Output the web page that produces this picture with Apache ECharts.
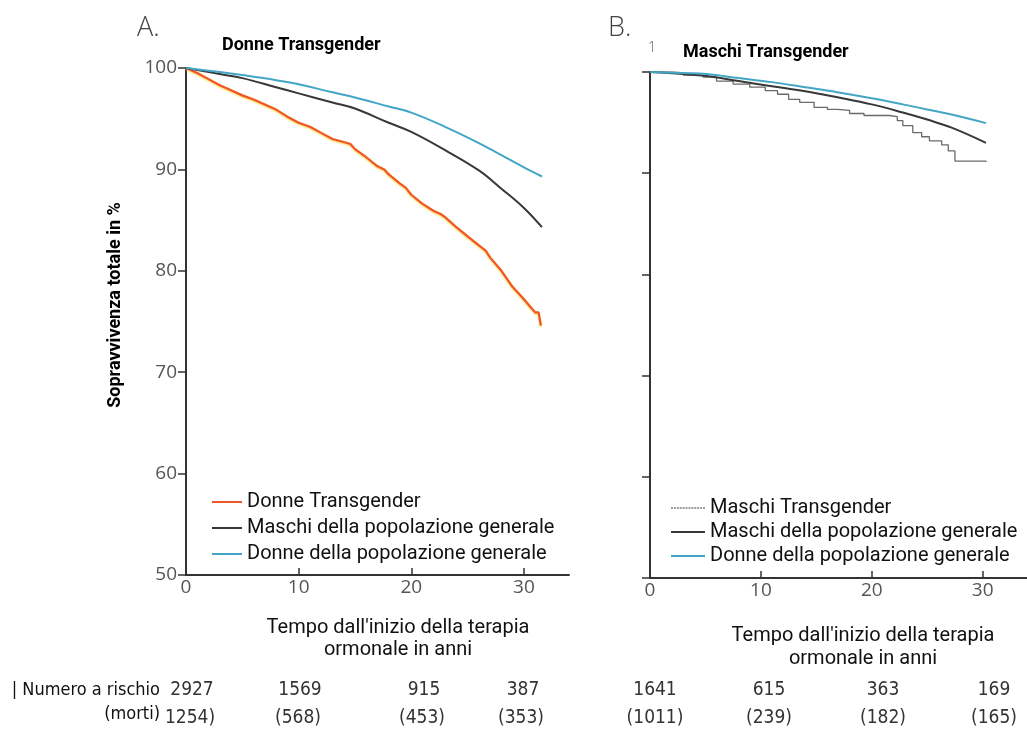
<!DOCTYPE html>
<html>
<head>
<meta charset="utf-8">
<script src="https://cdn.jsdelivr.net/npm/echarts@6/dist/echarts.min.js"></script>
<style>
  html, body { margin: 0; padding: 0; background: #fff; }
  #chart { width: 1027px; height: 733px; }
</style>
</head>
<body>
<div id="chart"></div>
<script>
// Survival (%) by years since start of hormone therapy: [year, value]
const donneTransgender = [
  [0, 100], [1, 99.5], [2, 98.9], [3, 98.3], [4, 97.8], [5, 97.3], [6, 96.9], [7, 96.4],
  [8, 95.9], [9, 95.2], [10, 94.6], [11, 94.2], [12, 93.6], [13, 93.0], [14, 92.7],
  [14.6, 92.5], [15, 92.0], [16, 91.2], [17, 90.3], [17.6, 90.0], [18, 89.5], [19, 88.6],
  [19.5, 88.2], [20, 87.5], [21, 86.6], [22, 85.9], [22.6, 85.6], [23, 85.3], [24, 84.3],
  [25, 83.4], [26, 82.5], [26.6, 82.0], [27, 81.3], [28, 80.0], [29, 78.4], [29.5, 77.8],
  [30, 77.2], [30.6, 76.4], [31, 75.9], [31.3, 75.9], [31.5, 74.6]
];
const maschiGeneraleA = [
  [0, 100], [3, 99.4], [5, 99.0], [8, 98.1], [10, 97.5], [13, 96.6], [15, 96.0],
  [18, 94.6], [20, 93.7], [23, 91.9], [26, 89.9], [28, 88.1], [30, 86.2], [31.6, 84.3]
];
const donneGeneraleA = [
  [0, 100], [3, 99.6], [5, 99.3], [8, 98.8], [10, 98.4], [13, 97.6], [15, 97.1],
  [18, 96.2], [20, 95.6], [23, 94.2], [26, 92.6], [28, 91.4], [30, 90.2], [31.6, 89.3]
];

const maschiTransgender = [
  [0, 100], [2, 99.9], [3, 99.7], [4.8, 99.5], [6, 99.1], [7.5, 98.8], [9, 98.5],
  [10.4, 98.15], [11.5, 97.8], [12.5, 97.3], [13.5, 97.0], [14.8, 96.5], [16, 96.3],
  [16.9, 96.2], [18, 95.9], [19.3, 95.7], [21.6, 95.6], [22.3, 95.2], [22.8, 94.7],
  [23.7, 94.0], [24.5, 93.6], [25.2, 93.2], [26.3, 92.8], [26.9, 92.2], [27.5, 91.2],
  [30.3, 91.1]
];
const maschiGeneraleB = [
  [0, 100], [3, 99.8], [5.1, 99.6], [8, 99.1], [11, 98.6], [14, 98.1], [16.9, 97.5],
  [20, 96.8], [22.8, 96.0], [25, 95.3], [27.2, 94.5], [30.3, 93.0]
];
const donneGeneraleB = [
  [0, 100], [3, 99.9], [5.1, 99.8], [8, 99.4], [11, 99.0], [14, 98.5], [16.9, 98.0],
  [20, 97.4], [22.8, 96.8], [25, 96.3], [27.2, 95.8], [30.3, 94.95]
];

const xTicks = [0, 10, 20, 30];
const yTicks = [50, 60, 70, 80, 90, 100];

// Number at risk and (deaths) under each panel
const rischioA = ['2927', '1569', '915', '387'];
const mortiA = ['1254)', '(568)', '(453)', '(353)'];
const rischioB = ['1641', '615', '363', '169'];
const mortiB = ['(1011)', '(239)', '(182)', '(165)'];

const legendA = ['Donne Transgender', 'Maschi della popolazione generale', 'Donne della popolazione generale'];
const legendB = ['Maschi Transgender', 'Maschi della popolazione generale', 'Donne della popolazione generale'];

// ---- layout and styling ----
const COL_ORANGE = '#ef5525';
const COL_BLACK = '#383838';
const COL_BLUE = '#43a6c6';
const COL_GREY = '#6a6a6a';
const TICK_FONT = '"Open Sans", "DejaVu Sans", sans-serif';
const TEXT_FONT = 'Roboto, "Noto Sans", sans-serif';
const NARROW_FONT = '"Liberation Sans Narrow", "DejaVu Sans Condensed", sans-serif';

// short dashes for the dotted legend key
let dashPath = 'path://';
for (let i = 0; i < 34; i += 3) dashPath += 'M' + i + ',0h2v1h-2z';

const chart = echarts.init(document.getElementById('chart'), null, { renderer: 'canvas' });

function xAxisFor(gridIndex) {
  return {
    type: 'value', gridIndex, min: 0, max: 34,
    axisLine: { show: true, onZero: false, lineStyle: { color: '#333', width: 2 } },
    axisTick: { show: true, inside: true, length: 7, customValues: xTicks, lineStyle: { color: '#333', width: 1.5 } },
    axisLabel: { customValues: xTicks, color: '#555', fontSize: 19, fontFamily: TICK_FONT, margin: 3 },
    splitLine: { show: false }
  };
}
function yAxisFor(gridIndex, labels) {
  return {
    type: 'value', gridIndex, min: 50, max: 100, interval: 10,
    axisLine: { show: true, onZero: false, lineStyle: { color: '#333', width: 2 } },
    axisTick: { show: true, length: 8, lineStyle: { color: '#333', width: 1.5 } },
    axisLabel: { show: labels, customValues: yTicks, color: '#555', fontSize: 19, fontFamily: TICK_FONT, margin: 9 },
    splitLine: { show: false }
  };
}
function line(name, data, axis, color, width, extra) {
  return Object.assign({
    name, type: 'line', data, xAxisIndex: axis, yAxisIndex: axis,
    symbol: 'none', smooth: false, animation: false,
    lineStyle: { color, width }, itemStyle: { color }
  }, extra || {});
}

function tableText(x, y, text, align) {
  return {
    type: 'text', x, y, silent: true,
    style: { text, font: '19px ' + NARROW_FONT, fill: '#333', textAlign: align || 'center', textVerticalAlign: 'middle' }
  };
}
const colsA = [192, 300, 424, 523];
const colsB = [655, 769, 883, 994];
const tableGraphics = [];
rischioA.forEach((t, i) => tableGraphics.push(tableText(colsA[i], 690, t)));
mortiA.forEach((t, i) => tableGraphics.push(tableText(colsA[i] - 2, 718, t)));
rischioB.forEach((t, i) => tableGraphics.push(tableText(colsB[i], 690, t)));
mortiB.forEach((t, i) => tableGraphics.push(tableText(colsB[i], 718, t)));

const legendText = { fontSize: 20, lineHeight: 20, color: '#111', fontFamily: TEXT_FONT };

const option = {
  backgroundColor: '#fff',
  animation: false,
  grid: [
    { left: 186, top: 68, width: 383, height: 507 },
    { left: 650, top: 72, width: 384, height: 506 }
  ],
  xAxis: [xAxisFor(0), xAxisFor(1)],
  yAxis: [yAxisFor(0, true), yAxisFor(1, false)],
  legend: [
    {
      orient: 'vertical', left: 207, top: 487, icon: 'rect', itemWidth: 30, itemHeight: 2, itemGap: 6,
      symbolKeepAspect: false, textStyle: legendText, data: legendA, selectedMode: false
    },
    {
      orient: 'vertical', left: 666, top: 493, icon: 'rect', itemWidth: 34, itemHeight: 2, itemGap: 4,
      symbolKeepAspect: false, textStyle: legendText,
      data: [
        { name: legendB[0], icon: dashPath, itemStyle: { color: '#9a9a9a' } },
        legendB[1], legendB[2]
      ],
      selectedMode: false
    }
  ],
  series: [
    line('Donne Transgender', donneTransgender, 0, COL_ORANGE, 2.2,
      { lineStyle: { color: COL_ORANGE, width: 2.2, shadowColor: 'rgba(245,200,20,0.8)', shadowBlur: 2, shadowOffsetY: 1 } }),
    line('Maschi della popolazione generale', maschiGeneraleA, 0, COL_BLACK, 2, { smooth: 0.4 }),
    line('Donne della popolazione generale', donneGeneraleA, 0, COL_BLUE, 2, { smooth: 0.4 }),
    line('Maschi Transgender', maschiTransgender, 1, COL_GREY, 1.3, { step: 'end' }),
    line('Maschi della popolazione generale', maschiGeneraleB, 1, COL_BLACK, 2, { smooth: 0.4 }),
    line('Donne della popolazione generale', donneGeneraleB, 1, COL_BLUE, 2, { smooth: 0.4 })
  ],
  graphic: [
    { type: 'text', x: 137, y: 28, style: { text: 'A.', font: '300 27px ' + TICK_FONT, fill: '#444', textVerticalAlign: 'middle' } },
    { type: 'text', x: 608, y: 28, style: { text: 'B.', font: '300 27px ' + TICK_FONT, fill: '#444', textVerticalAlign: 'middle' } },
    { type: 'text', x: 652, y: 48, style: { text: '1', font: '300 14px ' + TICK_FONT, fill: '#555', textAlign: 'center', textVerticalAlign: 'middle' } },
    { type: 'text', x: 222, y: 45, style: { text: 'Donne Transgender', font: 'bold 18px ' + TEXT_FONT, fill: '#000', textVerticalAlign: 'middle' } },
    { type: 'text', x: 683, y: 52, style: { text: 'Maschi Transgender', font: 'bold 18px ' + TEXT_FONT, fill: '#000', textVerticalAlign: 'middle' } },
    { type: 'text', x: 115, y: 305, rotation: Math.PI / 2,
      style: { text: 'Sopravvivenza totale in %', font: 'bold 18px ' + TEXT_FONT, fill: '#000', textAlign: 'center', textVerticalAlign: 'middle' } },
    { type: 'text', x: 398, y: 639,
      style: { text: "Tempo dall'inizio della terapia\normonale in anni", font: '20px ' + TEXT_FONT, lineHeight: 22, fill: '#111', textAlign: 'center', textVerticalAlign: 'middle' } },
    { type: 'text', x: 863, y: 647,
      style: { text: "Tempo dall'inizio della terapia\normonale in anni", font: '20px ' + TEXT_FONT, lineHeight: 23, fill: '#111', textAlign: 'center', textVerticalAlign: 'middle' } },
    { type: 'text', x: 160, y: 690, style: { text: '| Numero a rischio', font: '18px ' + NARROW_FONT, fill: '#111', textAlign: 'right', textVerticalAlign: 'middle' } },
    { type: 'text', x: 160, y: 714, style: { text: '(morti)', font: '18px ' + NARROW_FONT, fill: '#111', textAlign: 'right', textVerticalAlign: 'middle' } }
  ].concat(tableGraphics)
};

chart.setOption(option);
</script>
</body>
</html>
